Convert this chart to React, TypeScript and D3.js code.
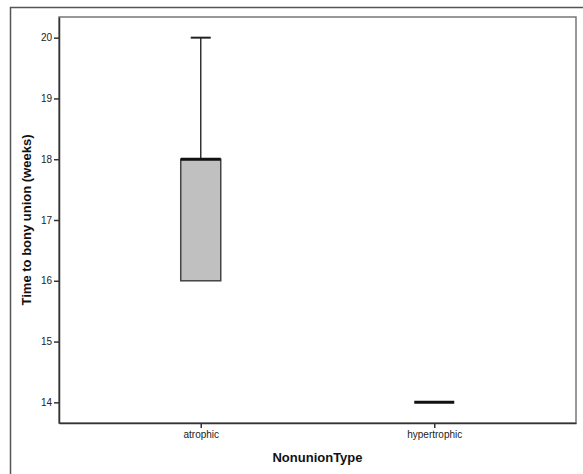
import * as d3 from "d3";
import React, { useEffect, useRef } from "react";

// box summaries
const categories = ["atrophic", "hypertrophic"];
const mins = [16, 14];
const q1s = [16, 14];
const medians = [18, 14];
const q3s = [18, 14];
const maxs = [20, 14];
const yTicks = [14, 15, 16, 17, 18, 19, 20];

export default function App() {
  const ref = useRef<SVGSVGElement>(null);

  useEffect(() => {
    const svg = d3.select(ref.current);
    svg.selectAll("*").remove();

    const width = 583;
    const height = 474;
    const margin = { top: 17, right: 7, bottom: 51, left: 59 };
    const innerW = width - margin.left - margin.right;
    const innerH = height - margin.top - margin.bottom;

    // outer frame (only top and left visible)
    svg.append("path")
      .attr("d", `M10.5,${height}V7.5H${width}`)
      .attr("fill", "none")
      .attr("stroke", "#555")
      .attr("stroke-width", 1.5);

    const g = svg.append("g").attr("transform", `translate(${margin.left},${margin.top})`);

    const x = d3.scalePoint().domain(categories).range([0, innerW]).padding(0.607);
    const y = d3.scaleLinear().domain([13.66, 20.34]).range([innerH, 0]);

    // plot frame
    g.append("rect")
      .attr("x", 0).attr("y", 0)
      .attr("width", innerW).attr("height", innerH)
      .attr("fill", "none")
      .attr("stroke", "#777")
      .attr("stroke-width", 1.5);

    const yAxis = g.append("g")
      .call(d3.axisLeft(y).tickValues(yTicks).tickSizeInner(5).tickSizeOuter(0).tickPadding(2).tickFormat(d3.format("d")));
    yAxis.select(".domain").attr("stroke", "#333").attr("stroke-width", 1.5);
    yAxis.selectAll(".tick line").attr("stroke", "#333").attr("stroke-width", 1.5);
    yAxis.selectAll("text").attr("font-family", "Liberation Sans, Arial, sans-serif")
      .attr("font-size", 10).attr("fill", "#222");

    const xAxis = g.append("g")
      .attr("transform", `translate(0,${innerH})`)
      .call(d3.axisBottom(x).tickSizeInner(5).tickSizeOuter(0).tickPadding(3));
    xAxis.select(".domain").attr("stroke", "#333").attr("stroke-width", 1.5);
    xAxis.selectAll(".tick line").attr("stroke", "#333").attr("stroke-width", 1.5);
    xAxis.selectAll("text").attr("font-family", "Liberation Sans, Arial, sans-serif")
      .attr("font-size", 10).attr("fill", "#222");

    const boxW = 40;
    const capW = 20;

    categories.forEach((c, i) => {
      const cx = x(c) as number;
      // whiskers
      if (maxs[i] > q3s[i]) {
        g.append("line").attr("x1", cx).attr("x2", cx).attr("y1", y(q3s[i])).attr("y2", y(maxs[i]))
          .attr("stroke", "#333").attr("stroke-width", 1.5);
        g.append("line").attr("x1", cx - capW / 2).attr("x2", cx + capW / 2)
          .attr("y1", y(maxs[i])).attr("y2", y(maxs[i]))
          .attr("stroke", "#222").attr("stroke-width", 2);
      }
      if (mins[i] < q1s[i]) {
        g.append("line").attr("x1", cx).attr("x2", cx).attr("y1", y(q1s[i])).attr("y2", y(mins[i]))
          .attr("stroke", "#333").attr("stroke-width", 1.5);
        g.append("line").attr("x1", cx - capW / 2).attr("x2", cx + capW / 2)
          .attr("y1", y(mins[i])).attr("y2", y(mins[i]))
          .attr("stroke", "#222").attr("stroke-width", 2);
      }
      if (q3s[i] > q1s[i]) {
        g.append("rect")
          .attr("x", cx - boxW / 2).attr("y", y(q3s[i]))
          .attr("width", boxW).attr("height", y(q1s[i]) - y(q3s[i]))
          .attr("fill", "#c0c0c0")
          .attr("stroke", "#444")
          .attr("stroke-width", 1.5);
      }
      // median
      g.append("line").attr("x1", cx - boxW / 2).attr("x2", cx + boxW / 2)
        .attr("y1", y(medians[i])).attr("y2", y(medians[i]))
        .attr("stroke", "#111").attr("stroke-width", 3);
    });

    g.append("text")
      .attr("x", innerW / 2)
      .attr("y", innerH + 39)
      .attr("text-anchor", "middle")
      .attr("font-family", "Liberation Sans, Arial, sans-serif")
      .attr("font-size", 13)
      .attr("font-weight", "bold")
      .attr("fill", "#111")
      .text("NonunionType");

    g.append("text")
      .attr("transform", "rotate(-90)")
      .attr("x", -innerH / 2)
      .attr("y", -28)
      .attr("text-anchor", "middle")
      .attr("font-family", "Liberation Sans, Arial, sans-serif")
      .attr("font-size", 13)
      .attr("font-weight", "bold")
      .attr("fill", "#111")
      .text("Time to bony union (weeks)");
  }, []);

  return (
    <svg ref={ref} width={583} height={474}
      style={{ position: "absolute", left: 0, top: 0, background: "#fff" }} />
  );
}
